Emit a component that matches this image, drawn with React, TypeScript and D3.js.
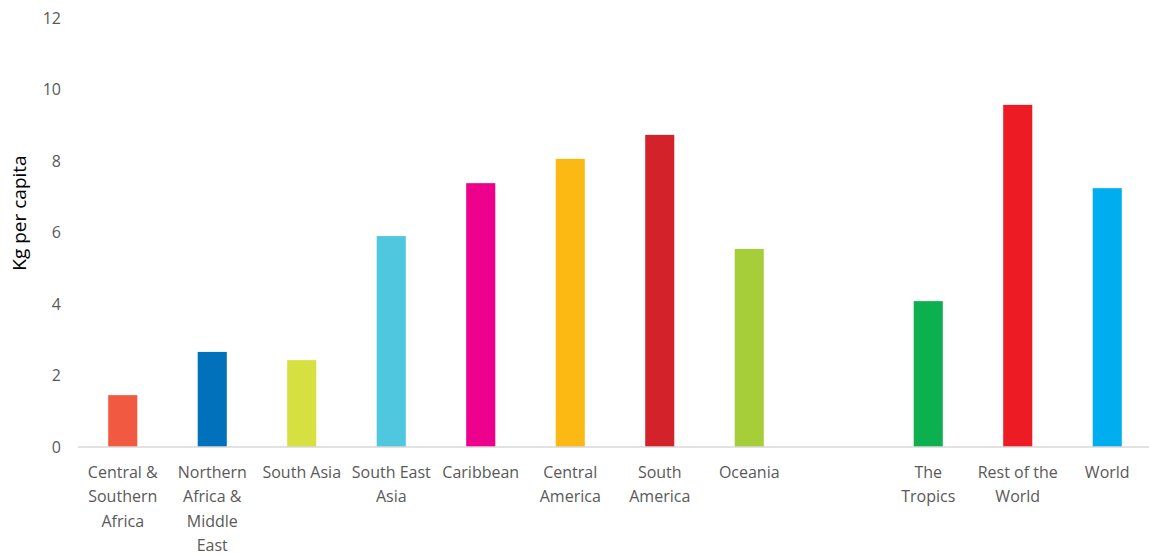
import React from "react";
import * as d3 from "d3";

const categories = [
  "Central & Southern Africa",
  "Northern Africa & Middle East",
  "South Asia",
  "South East Asia",
  "Caribbean",
  "Central America",
  "South America",
  "Oceania",
  "",
  "The Tropics",
  "Rest of the World",
  "World",
];
const labelLines = [
  ["Central &", "Southern", "Africa"],
  ["Northern", "Africa &", "Middle", "East"],
  ["South Asia"],
  ["South East", "Asia"],
  ["Caribbean"],
  ["Central", "America"],
  ["South", "America"],
  ["Oceania"],
  [],
  ["The", "Tropics"],
  ["Rest of the", "World"],
  ["World"],
];
const values: (number | null)[] = [1.45, 2.66, 2.43, 5.9, 7.38, 8.06, 8.73, 5.54, null, 4.08, 9.57, 7.24];
const colors = [
  "#F15A40", "#0071BA", "#D7E041", "#4EC7DF", "#EC008C", "#FDB913",
  "#D3222A", "#A6CE39", "#FFFFFF", "#0CB04E", "#ED1C24", "#00AEEF",
];
const yTicks = [0, 2, 4, 6, 8, 10, 12];

const W = 1149;
const H = 555;
const left = 78;
const right = 1152;
const top = 18;
const bottom = 447;

export default function App() {
  const x = d3.scaleBand<string>().domain(categories.map((c, i) => String(i))).range([left, right]).paddingInner(0.675).paddingOuter(0.3375);
  const y = d3.scaleLinear().domain([0, 12]).range([bottom, top]);
  const font = "'Open Sans', 'Noto Sans', sans-serif";
  return (
    <svg width={W} height={H} style={{ position: "absolute", left: 0, top: 0 }}>
      <rect width={W} height={H} fill="#fff" />
      {yTicks.map((t) => (
        <text key={t} x={61} y={y(t)} dy="0.35em" textAnchor="end" fontSize={16} fill="#595959" fontFamily={font}>
          {t}
        </text>
      ))}
      <text transform={`translate(26,213) rotate(-90)`} textAnchor="middle" fontSize={19} fill="#000" fontFamily={font}>
        Kg per capita
      </text>
      {values.map((v, i) =>
        v == null ? null : (
          <rect key={i} x={x(String(i))} width={x.bandwidth()} y={y(v)} height={y(0) - y(v)} fill={colors[i]} />
        )
      )}
      <line x1={left} x2={1149} y1={bottom} y2={bottom} stroke="#D9D9D9" strokeWidth={1.5} />
      {labelLines.map((lines, i) => (
        <text key={i} textAnchor="middle" fontSize={16} fill="#595959" fontFamily={font}>
          {lines.map((l, j) => (
            <tspan key={j} x={(x(String(i)) as number) + x.bandwidth() / 2} y={478 + j * 24.3}>
              {l}
            </tspan>
          ))}
        </text>
      ))}
    </svg>
  );
}
